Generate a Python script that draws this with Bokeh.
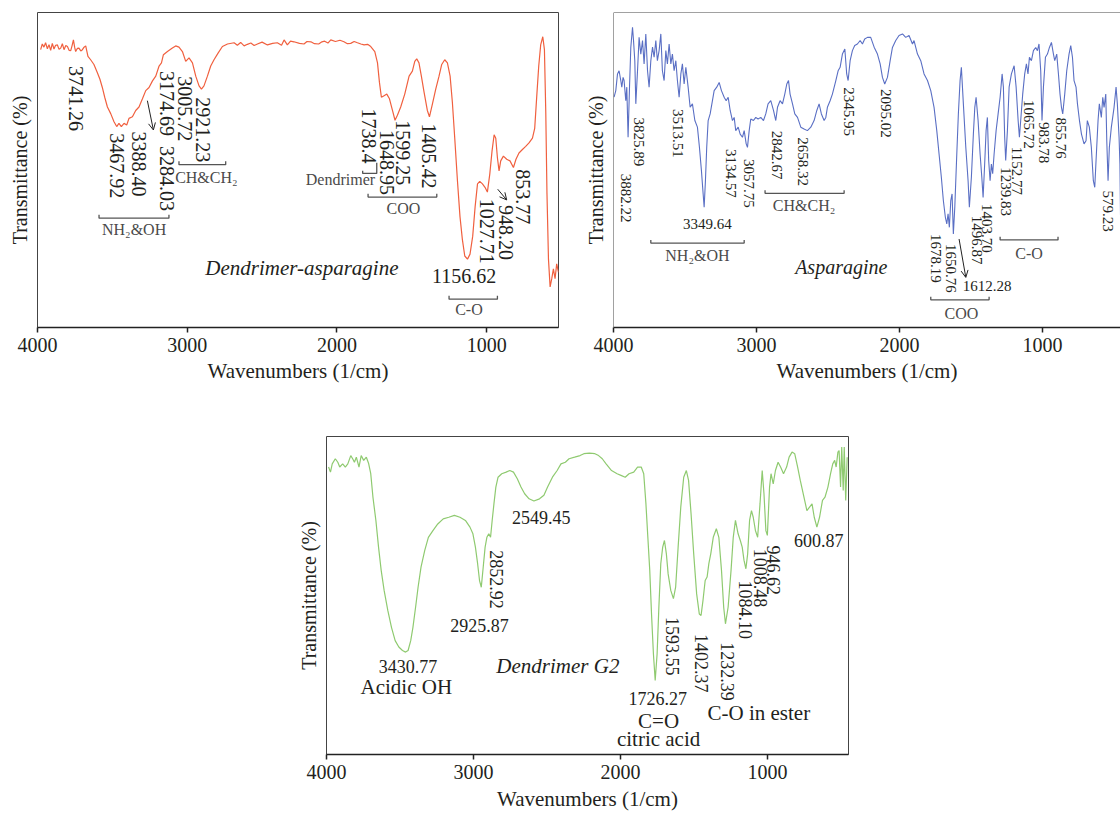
import math
from bokeh.plotting import figure
from bokeh.models import (Range1d, FixedTicker, LinearAxis, Arrow, OpenHead, Span,
                          ColumnDataSource, Spacer)
from bokeh.layouts import row, column
from bokeh.core.properties import value
from bokeh.embed import file_html
from bokeh.resources import INLINE

FONT = "Liberation Serif"
x_ticks = [4000, 3000, 2000, 1000]
x_title = "Wavenumbers (1/cm)"
y_title = "Transmittance (%)"

# ---------------- spectra (wavenumber 1/cm, transmittance %) ----------------
dendrimer_asparagine = [
    (3979, 88.2), (3968, 90.0), (3957, 89.0), (3946, 90.4), (3934, 88.5), (3923, 89.8), (3912, 88.0),
    (3901, 90.2), (3890, 88.4), (3879, 89.6), (3867, 89.7), (3856, 88.3), (3845, 88.7), (3834, 90.1),
    (3823, 88.2), (3811, 89.5), (3800, 89.2), (3789, 88.0), (3778, 87.9), (3769, 89.5), (3760, 91.3),
    (3752, 89.0), (3745, 87.6), (3734, 88.6), (3723, 88.7), (3711, 87.8), (3700, 88.2), (3689, 89.0),
    (3678, 89.4), (3663, 86.1), (3645, 85.0), (3623, 83.5), (3600, 80.9), (3583, 78.8), (3567, 76.2),
    (3551, 73.1), (3533, 70.0), (3511, 67.9), (3489, 65.3), (3471, 63.8), (3456, 64.8), (3440, 63.8),
    (3422, 64.8), (3404, 64.3), (3389, 66.4), (3366, 66.9), (3344, 68.9), (3322, 70.0), (3299, 72.6),
    (3277, 75.2), (3255, 76.2), (3232, 78.3), (3210, 79.8), (3188, 83.0), (3172, 84.0), (3159, 86.6),
    (3132, 87.6), (3099, 88.7), (3077, 89.4), (3055, 89.0), (3032, 87.6), (3010, 84.5), (2988, 85.6),
    (2965, 84.0), (2943, 79.8), (2921, 76.7), (2905, 75.7), (2888, 76.7), (2865, 79.8), (2843, 83.0),
    (2821, 85.0), (2794, 87.1), (2765, 89.2), (2731, 90.0), (2687, 90.4), (2665, 89.6), (2643, 90.5),
    (2620, 89.4), (2598, 89.9), (2575, 90.3), (2553, 89.5), (2531, 90.0), (2500, 90.6), (2464, 89.7),
    (2430, 90.2), (2398, 90.4), (2370, 89.6), (2353, 91.3), (2331, 89.7), (2310, 90.9), (2287, 90.7),
    (2250, 90.2), (2220, 90.0), (2200, 90.8), (2174, 90.7), (2150, 90.1), (2122, 90.0), (2100, 90.7),
    (2082, 90.9), (2060, 90.3), (2041, 91.3), (2010, 90.8), (1980, 91.2), (1953, 90.7), (1930, 90.1),
    (1908, 90.2), (1885, 90.8), (1863, 90.4), (1840, 90.0), (1819, 89.7), (1795, 89.9), (1774, 89.2),
    (1747, 87.6), (1729, 84.0), (1716, 77.8), (1703, 73.1), (1685, 73.6), (1667, 74.1), (1649, 72.6),
    (1629, 68.9), (1612, 65.8), (1596, 67.4), (1574, 70.0), (1547, 74.1), (1518, 79.8), (1496, 81.4),
    (1480, 84.5), (1467, 85.3), (1452, 84.0), (1436, 79.8), (1418, 74.7), (1396, 68.9), (1382, 66.9),
    (1362, 71.0), (1340, 75.7), (1318, 79.8), (1300, 83.5), (1280, 85.0), (1262, 84.0), (1244, 79.8),
    (1229, 71.6), (1213, 60.1), (1195, 46.6), (1178, 35.2), (1162, 27.9), (1146, 22.7), (1128, 21.7),
    (1111, 23.3), (1093, 29.0), (1077, 38.3), (1061, 45.6), (1046, 46.4), (1028, 45.6), (1011, 44.5),
    (995, 43.0), (979, 48.7), (964, 56.0), (950, 61.2), (939, 60.1), (928, 53.9), (917, 49.7),
    (906, 52.9), (888, 54.4), (866, 53.4), (844, 52.9), (821, 50.8), (804, 53.4), (784, 55.4),
    (761, 56.5), (739, 57.5), (717, 58.6), (694, 60.1), (679, 63.2), (665, 73.6), (652, 83.0),
    (639, 89.7), (625, 92.3), (614, 88.2), (605, 68.4), (597, 42.5), (587, 21.7), (576, 12.9),
    (565, 15.5), (554, 18.6), (543, 15.5), (532, 20.2), (520, 17.5),
]

asparagine = [
    (3996, 73.1), (3984, 75.2), (3972, 80.5), (3961, 81.5), (3949, 78.4), (3942, 76.3), (3933, 79.4),
    (3926, 78.4), (3914, 72.0), (3907, 76.3), (3898, 60.4), (3888, 76.3), (3879, 88.9), (3867, 95.3),
    (3860, 91.1), (3851, 84.7), (3844, 71.0), (3832, 81.5), (3821, 92.1), (3809, 86.8), (3797, 91.1),
    (3786, 83.7), (3774, 93.2), (3762, 81.5), (3751, 76.3), (3739, 84.7), (3727, 89.0), (3716, 85.8),
    (3704, 91.1), (3693, 84.7), (3681, 87.9), (3669, 93.2), (3658, 81.5), (3646, 78.4), (3634, 87.9),
    (3623, 83.7), (3611, 90.0), (3599, 83.7), (3588, 86.8), (3576, 81.5), (3564, 84.7), (3553, 78.4),
    (3541, 73.1), (3529, 80.5), (3518, 83.7), (3506, 77.3), (3494, 82.6), (3478, 76.3), (3464, 69.9),
    (3448, 71.0), (3431, 65.7), (3413, 63.6), (3399, 57.2), (3385, 49.8), (3373, 42.4), (3366, 38.2),
    (3357, 46.6), (3348, 57.2), (3338, 65.7), (3324, 67.8), (3308, 72.0), (3296, 75.2), (3278, 76.3),
    (3261, 77.8), (3245, 75.2), (3226, 73.1), (3212, 72.0), (3198, 73.1), (3184, 68.9), (3168, 65.7),
    (3156, 66.7), (3145, 62.5), (3128, 63.6), (3114, 61.4), (3098, 60.4), (3086, 62.5), (3072, 58.3),
    (3063, 57.2), (3051, 62.5), (3040, 66.2), (3021, 65.7), (3005, 66.7), (2989, 66.2), (2970, 66.7),
    (2951, 65.7), (2935, 67.8), (2919, 71.0), (2900, 72.0), (2881, 68.9), (2865, 65.7), (2853, 69.9),
    (2835, 72.0), (2818, 71.0), (2802, 74.1), (2788, 77.3), (2776, 78.4), (2765, 74.1), (2748, 71.0),
    (2732, 67.8), (2713, 66.7), (2690, 63.6), (2667, 63.0), (2644, 62.5), (2620, 63.6), (2597, 65.7),
    (2578, 68.9), (2562, 71.0), (2546, 67.8), (2527, 65.7), (2515, 66.7), (2504, 69.9), (2485, 72.0),
    (2469, 74.1), (2445, 78.4), (2429, 81.5), (2415, 82.6), (2399, 86.8), (2382, 88.4), (2369, 80.5),
    (2359, 78.4), (2345, 84.7), (2329, 87.9), (2313, 89.5), (2294, 90.0), (2275, 91.1), (2259, 90.0),
    (2243, 91.6), (2224, 92.1), (2201, 92.1), (2177, 89.0), (2154, 86.8), (2135, 83.7), (2119, 79.4),
    (2103, 77.3), (2084, 79.4), (2065, 84.7), (2049, 88.9), (2026, 91.1), (2003, 92.7), (1979, 93.2),
    (1956, 92.1), (1933, 92.7), (1909, 90.0), (1898, 91.1), (1874, 86.8), (1851, 84.7), (1828, 80.5),
    (1804, 78.4), (1781, 75.2), (1758, 69.9), (1739, 62.5), (1723, 55.1), (1707, 47.7), (1693, 40.3),
    (1679, 35.0), (1669, 32.9), (1660, 36.1), (1651, 31.8), (1641, 40.3), (1632, 42.4), (1623, 29.7),
    (1613, 38.2), (1599, 55.1), (1588, 67.8), (1576, 78.4), (1567, 82.6), (1553, 71.0), (1536, 57.2),
    (1520, 46.6), (1511, 38.2), (1497, 47.7), (1483, 61.4), (1473, 69.9), (1464, 73.1), (1450, 65.7),
    (1436, 55.1), (1424, 47.7), (1415, 41.3), (1404, 51.9), (1394, 62.5), (1385, 66.7), (1376, 53.0),
    (1366, 46.6), (1357, 51.9), (1348, 48.8), (1338, 55.1), (1324, 62.5), (1310, 67.8), (1296, 73.1),
    (1282, 80.5), (1273, 76.3), (1264, 60.4), (1257, 53.0), (1245, 62.5), (1233, 76.3), (1217, 80.5),
    (1198, 83.1), (1184, 76.3), (1170, 65.7), (1161, 60.4), (1152, 65.7), (1138, 74.1), (1124, 80.5),
    (1112, 83.7), (1101, 80.5), (1091, 85.8), (1077, 84.7), (1063, 87.9), (1047, 88.9), (1035, 87.9),
    (1024, 90.0), (1012, 81.5), (1003, 65.7), (993, 76.3), (979, 85.8), (965, 86.8), (951, 88.9),
    (937, 90.5), (923, 86.8), (914, 84.7), (900, 86.8), (888, 80.5), (877, 74.1), (867, 69.9),
    (858, 67.8), (844, 74.1), (830, 81.5), (814, 86.8), (802, 89.5), (790, 85.8), (779, 78.4),
    (765, 76.3), (755, 71.0), (741, 65.7), (727, 61.4), (709, 58.3), (695, 59.3), (686, 65.7),
    (672, 63.6), (658, 57.2), (644, 46.6), (634, 44.5), (625, 53.0), (611, 65.7), (602, 71.0),
    (588, 66.7), (578, 73.1), (569, 69.9), (557, 74.1), (550, 59.3), (541, 46.6), (532, 57.2),
    (518, 63.6), (499, 69.9), (485, 76.3), (476, 71.0), (464, 60.4), (458, 52.0), (452, 28.0),
]

dendrimer_g2 = [
    (3986, 90.4), (3973, 88.8), (3961, 91.4), (3940, 93.0), (3923, 91.9), (3910, 90.4), (3890, 91.4),
    (3872, 90.4), (3855, 91.4), (3835, 94.0), (3822, 93.0), (3810, 91.9), (3797, 93.5), (3779, 90.4),
    (3764, 94.0), (3747, 92.5), (3729, 93.5), (3714, 91.6), (3699, 88.3), (3684, 80.9), (3664, 73.6),
    (3646, 65.2), (3628, 57.9), (3608, 51.6), (3583, 45.3), (3558, 40.0), (3533, 35.8), (3508, 33.8),
    (3483, 32.7), (3462, 32.2), (3445, 32.7), (3427, 35.8), (3412, 40.0), (3394, 46.3), (3377, 52.6),
    (3357, 58.9), (3332, 64.1), (3307, 68.3), (3276, 70.4), (3243, 72.5), (3206, 74.1), (3168, 74.6),
    (3130, 75.2), (3092, 74.6), (3055, 73.6), (3024, 71.5), (3004, 69.4), (2987, 65.2), (2972, 60.0),
    (2959, 54.7), (2947, 52.6), (2934, 58.9), (2921, 65.2), (2909, 68.3), (2896, 69.4), (2884, 68.3),
    (2873, 73.6), (2861, 78.8), (2848, 84.1), (2833, 87.2), (2808, 88.3), (2778, 88.8), (2753, 89.3),
    (2728, 88.8), (2702, 86.7), (2677, 84.1), (2652, 82.0), (2622, 80.4), (2589, 79.7), (2551, 80.4),
    (2521, 81.5), (2496, 84.1), (2463, 87.2), (2431, 89.3), (2405, 91.4), (2375, 91.9), (2350, 93.0),
    (2312, 93.5), (2275, 94.0), (2249, 94.6), (2212, 94.8), (2174, 94.6), (2149, 94.0), (2124, 93.0),
    (2098, 91.4), (2061, 89.3), (2023, 88.3), (1993, 87.7), (1968, 87.2), (1942, 88.3), (1910, 88.8),
    (1884, 90.4), (1859, 90.4), (1842, 88.3), (1827, 78.8), (1814, 68.3), (1801, 57.9), (1789, 44.2),
    (1776, 31.6), (1764, 23.3), (1751, 31.6), (1739, 46.3), (1726, 60.0), (1713, 65.2), (1701, 67.3),
    (1688, 63.1), (1676, 56.8), (1658, 51.6), (1640, 49.0), (1625, 52.6), (1608, 65.2), (1590, 77.8),
    (1570, 87.2), (1552, 89.3), (1537, 86.2), (1520, 75.7), (1502, 63.1), (1482, 50.5), (1464, 44.2),
    (1452, 43.7), (1439, 48.4), (1424, 54.7), (1411, 55.8), (1399, 60.0), (1386, 63.1), (1369, 68.3),
    (1348, 71.0), (1331, 68.3), (1313, 57.9), (1298, 46.3), (1286, 41.1), (1268, 46.3), (1248, 57.9),
    (1233, 68.3), (1218, 73.6), (1200, 69.4), (1185, 67.3), (1172, 65.2), (1160, 61.1), (1147, 58.4),
    (1135, 63.1), (1122, 73.6), (1109, 76.7), (1097, 74.6), (1082, 70.4), (1067, 68.3), (1051, 78.8),
    (1036, 89.3), (1024, 82.0), (1011, 70.4), (1001, 68.9), (986, 84.1), (976, 88.3), (961, 85.1),
    (946, 89.3), (928, 91.9), (911, 90.4), (891, 88.3), (870, 90.4), (853, 93.5), (833, 95.1),
    (815, 94.6), (795, 90.4), (777, 86.2), (752, 80.9), (732, 76.7), (714, 77.8), (697, 78.8),
    (682, 74.6), (664, 71.5), (646, 74.6), (626, 79.9), (609, 80.9), (589, 84.1), (571, 88.3),
    (556, 91.4), (543, 92.5), (533, 90.4), (521, 95.1), (513, 95.6), (503, 84.1), (495, 96.7),
    (485, 83.0), (478, 96.7), (468, 79.9), (458, 93.5),
]

# ---------------- annotations: (text, wavenumber, transmittance) ----------------
p1_vertical = [("3741.26", 3745, 83.0), ("3467.92", 3471, 61.7), ("3388.40", 3322, 62.2),
               ("3174.69", 3137, 81.4), ("3284.03", 3137, 57.6), ("3005.72", 3017, 79.8),
               ("2921.23", 2892, 73.1), ("1738.4", 1786, 69.5), ("1648.95", 1663, 62.7),
               ("1599.25", 1556, 65.8), ("1405.42", 1385, 64.8), ("1027.71", 995, 40.9),
               ("948.20", 872, 38.9), ("853.77", 754, 50.2)]
p1_horizontal = [("1156.62", 1151, 16.5)]
p1_groups = [("NH\u2082&OH", 3355, 31.1), ("CH&CH\u2082", 2872, 47.7), ("COO", 1556, 37.8), ("C-O", 1118, 5.6)]
p1_group_right = [("Dendrimer", 1745, 47.0)]
p1_name = [("Dendrimer-asparagine", 2234, 19.0)]
p1_brackets = [(3589, 3122, 34.7), (3055, 2743, 51.7), (1792, 1333, 41.4), (1251, 928, 9.0)]
p1_arrows = [(3266, 72.0, 3226, 62.7), (926, 43.9, 866, 40.5)]

p2_vertical = [("3882.22", 3914, 48.8), ("3825.89", 3821, 66.7), ("3513.51", 3548, 69.4),
               ("3134.57", 3175, 56.7), ("3057.75", 3051, 53.5), ("2842.67", 2853, 62.5),
               ("2658.32", 2672, 60.4), ("2345.95", 2352, 76.3), ("2095.02", 2096, 75.7),
               ("1678.19", 1746, 29.7), ("1650.76", 1641, 26.5), ("1496.87", 1459, 35.5),
               ("1403.70", 1385, 39.2), ("1239.83", 1257, 50.9), ("1152.77", 1175, 57.4),
               ("1065.72", 1094, 72.2), ("983.78", 989, 65.2), ("855.76", 872, 66.7),
               ("579.23", 541, 43.5)]
p2_horizontal = [("3349.64", 3343, 32.7), ("1612.28", 1387, 13.3)]
p2_groups = [("NH\u2082&OH", 3413, 22.8), ("CH&CH\u2082", 2667, 38.7), ("C-O", 1093, 23.4), ("COO", 1567, 4.3)]
p2_name = [("Asparagine", 2407, 19.1)]
p2_brackets = [(3739, 3086, 26.8), (2940, 2387, 42.6), (1296, 891, 27.8), (1781, 1373, 8.8)]
p2_arrows = [(1583, 28.1, 1536, 15.9)]

p3_vertical = [("2852.92", 2841, 64.2), ("1593.55", 1645, 43.2), ("1402.37", 1452, 37.9),
               ("1232.39", 1273, 35.3), ("1084.10", 1147, 54.7), ("1008.48", 1051, 64.7),
               ("946.62", 958, 65.7)]
p3_horizontal = [("2549.45", 2539, 74.6), ("2925.87", 2959, 40.6), ("3430.77", 3445, 27.7),
                 ("1726.27", 1746, 17.5), ("600.87", 651, 67.3)]
p3_words = [("Acidic OH", 3457, 21.2), ("C=O", 1741, 10.4), ("citric acid", 1741, 4.9), ("C-O in ester", 1059, 13.0)]
p3_name = [("Dendrimer G2", 2426, 27.7)]

TEXT = "#231f20"
GREY = "#4a4a4a"


def make_fig(width, height, x_end, left, right, top, bottom, outline=True, title_standoff=4):
    p = figure(width=width, height=height, x_range=Range1d(4000, x_end), y_range=Range1d(0, 100),
               y_axis_type=None, output_backend="svg", toolbar_location=None, title=None,
               min_border_left=left, min_border_right=right, min_border_top=top, min_border_bottom=bottom,
               background_fill_color="white", border_fill_color="white")
    p.grid.visible = False
    ax = p.xaxis[0]
    ax.ticker = FixedTicker(ticks=x_ticks)
    ax.major_label_text_font = FONT
    ax.major_label_text_font_size = "20px"
    ax.major_label_text_color = TEXT
    ax.major_label_standoff = 5
    ax.axis_label = x_title
    ax.axis_label_text_font = FONT
    ax.axis_label_text_font_size = "21px"
    ax.axis_label_text_font_style = "normal"
    ax.axis_label_text_color = TEXT
    ax.axis_label_standoff = title_standoff
    ax.major_tick_in = 0
    ax.major_tick_out = 5
    ax.major_tick_line_color = "#222222"
    ax.major_tick_line_width = 1.5
    ax.minor_tick_line_color = None
    ax.axis_line_color = "#222222"
    ax.axis_line_width = 1.5
    yax = LinearAxis(ticker=FixedTicker(ticks=[]), axis_label=y_title,
                     axis_label_text_font=FONT, axis_label_text_font_size="20px",
                     axis_label_text_font_style="normal", axis_label_text_color=TEXT,
                     axis_label_standoff=7, major_tick_in=0, major_tick_out=0,
                     minor_tick_in=0, minor_tick_out=0, major_label_standoff=0,
                     major_label_text_font_size="0px", axis_line_color=None)
    p.add_layout(yax, "left")
    if outline:
        p.outline_line_color = "#444444"
        p.outline_line_width = 1
    else:
        p.outline_line_color = None
        p.add_layout(Span(location=100, dimension="width", line_color="#444444", line_width=1))
        p.add_layout(Span(location=4000, dimension="height", line_color="#444444", line_width=1))
    return p


def add_texts(p, items, size, rotated=False, color=TEXT, style="normal", align=None):
    src = ColumnDataSource(dict(x=[i[1] for i in items], y=[i[2] for i in items], text=[i[0] for i in items]))
    p.text(x="x", y="y", text="text", source=src,
           angle=-math.pi / 2 if rotated else 0,
           text_align=align or ("left" if rotated else "center"), text_baseline="middle",
           text_font=value(FONT), text_font_size=f"{size}px", text_color=color, text_font_style=style)


def add_brackets(p, items, tick, extra=None):
    xs = [[b[0], b[0], b[1], b[1]] for b in items]
    ys = [[b[2] + tick, b[2], b[2], b[2] + tick] for b in items]
    if extra:
        xs += [e[0] for e in extra]
        ys += [e[1] for e in extra]
    p.multi_line(xs, ys, line_color="#555555", line_width=1.3)


def add_arrows(p, items):
    for x0, y0, x1, y1 in items:
        p.add_layout(Arrow(x_start=x0, y_start=y0, x_end=x1, y_end=y1, line_color="#222222", line_width=1,
                           end=OpenHead(size=7, line_color="#222222", line_width=1)))


# ---------------- panel 1: dendrimer-asparagine ----------------
p1 = make_fig(560, 396, 520, 37, 2, 12, 63)
p1.line([d[0] for d in dendrimer_asparagine], [d[1] for d in dendrimer_asparagine],
        line_color="#f0603f", line_width=1.2)
add_texts(p1, p1_vertical, 20, rotated=True)
add_texts(p1, p1_horizontal, 20)
add_texts(p1, p1_groups, 16, color=GREY)
add_texts(p1, p1_group_right, 16, color=GREY, align="right")
add_texts(p1, p1_name, 21, style="italic")
add_brackets(p1, p1_brackets, 1.1, extra=[([1828, 1828, 1734, 1734], [49.8, 48.9, 48.9, 52.3])])
add_arrows(p1, p1_arrows)

# ---------------- panel 2: asparagine ----------------
p2 = make_fig(560, 396, 454, 53, 0, 12, 69, outline=False)
p2.line([d[0] for d in asparagine], [d[1] for d in asparagine], line_color="#5a6fc4", line_width=1.1)
add_texts(p2, p2_vertical, 15, rotated=True)
add_texts(p2, p2_horizontal, 15)
add_texts(p2, p2_groups, 16, color=GREY)
add_texts(p2, p2_name, 20, style="italic")
add_brackets(p2, p2_brackets, 1.0)
add_arrows(p2, p2_arrows)

# ---------------- panel 3: dendrimer G2 ----------------
p3 = make_fig(578, 420, 449, 46, 10, 40, 62, title_standoff=5)
p3.line([d[0] for d in dendrimer_g2], [d[1] for d in dendrimer_g2], line_color="#8fca70", line_width=1.2)
add_texts(p3, p3_vertical, 18, rotated=True)
add_texts(p3, p3_horizontal, 18)
add_texts(p3, p3_words, 21)
add_texts(p3, p3_name, 21, style="italic")

layout = column(row(p1, p2), row(Spacer(width=280, height=420), p3))

open("out.html", "w").write(file_html(layout, INLINE))
